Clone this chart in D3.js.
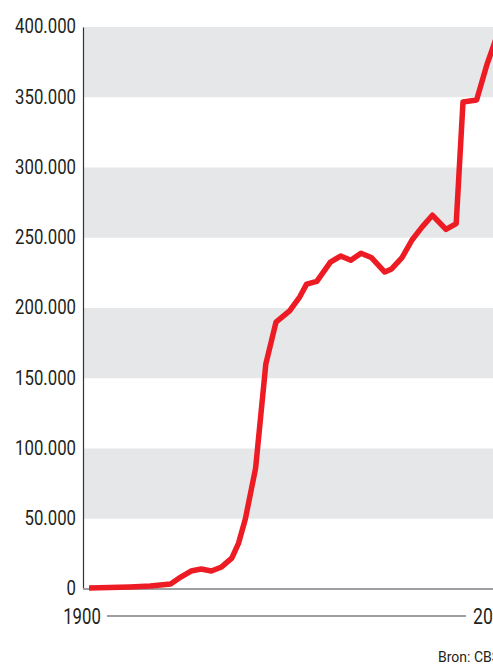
<!DOCTYPE html>
<html>
<head>
<meta charset="utf-8">
<script src="https://cdn.jsdelivr.net/npm/d3@7"></script>
<style>
  body { margin: 0; background: #fff; }
  svg { display: block; }
  text { font-family: Roboto, "Liberation Sans", sans-serif; fill: #231f20; }
</style>
</head>
<body>
<div id="chart"></div>
<script>
// Data (Bron: CBS)
const years = [1900, 1906, 1912, 1918, 1924, 1927, 1930, 1933, 1936, 1939, 1942, 1944, 1946, 1949,
               1952, 1955, 1959, 1962, 1964, 1967, 1971, 1974, 1977, 1980, 1983, 1987, 1989, 1992,
               1995, 1998, 2001, 2005, 2008, 2010, 2014, 2017, 2020];
const values = [700, 1000, 1400, 2100, 3600, 8500, 12800, 14200, 12800, 15700, 22000, 32700, 50000, 86000,
                160000, 190000, 198000, 208000, 217000, 219000, 232700, 237000, 234000, 239000, 236000, 225600, 227800, 235600,
                248400, 257700, 266000, 256000, 260000, 346600, 348000, 373000, 393600];
const yTicks = [0, 50000, 100000, 150000, 200000, 250000, 300000, 350000, 400000];
const yearLabels = ["1900", "2020"];
const source = "Bron: CBS";

const data = years.map((y, i) => ({ year: y, value: values[i] }));

const W = 493, H = 666;
const margin = { top: 27, right: 0, bottom: 77, left: 83 };

const svg = d3.select("#chart").append("svg")
    .attr("width", W)
    .attr("height", H);

const x = d3.scaleLinear()
    .domain([1900, 2020])
    .range([89, 497]);

const y = d3.scaleLinear()
    .domain([0, 400000])
    .range([H - margin.bottom, margin.top]);

const fmt = d => d3.format(",")(d).replace(/,/g, ".");

// alternating grey bands
svg.append("g").selectAll("rect")
    .data(yTicks.filter(t => t % 100000 === 50000))
    .enter().append("rect")
    .attr("x", margin.left)
    .attr("width", W - margin.left)
    .attr("y", d => y(d + 50000))
    .attr("height", d => y(d) - y(d + 50000))
    .attr("fill", "#e6e7e8");

// y axis labels (condensed look via horizontal scale)
const yAxis = svg.append("g")
    .attr("transform", "translate(" + margin.left + ",0)")
    .call(d3.axisLeft(y).tickValues(yTicks).tickFormat(fmt).tickSize(0));
yAxis.select(".domain").attr("stroke", "#333").attr("stroke-width", 1.2);
yAxis.selectAll("text")
    .attr("x", 0)
    .attr("transform", "translate(-7,0) scale(0.86,1)")
    .attr("dy", "0.3em")
    .attr("fill", "#231f20")
    .style("font-size", "19.5px")
    .style("font-family", "Roboto, sans-serif");

// baseline
svg.append("line")
    .attr("x1", margin.left).attr("x2", W)
    .attr("y1", y(0)).attr("y2", y(0))
    .attr("stroke", "#9d9fa2")
    .attr("stroke-width", 2);

// the line
svg.append("path")
    .datum(data)
    .attr("fill", "none")
    .attr("stroke", "#ed1c24")
    .attr("stroke-width", 5.5)
    .attr("stroke-linejoin", "round")
    .attr("d", d3.line().x(d => x(d.year)).y(d => y(d.value)));

// year ruler
const rulerY = 616;
svg.append("text")
    .attr("transform", "translate(82," + rulerY + ") scale(0.76,1)")
    .attr("dy", "0.36em")
    .attr("text-anchor", "middle")
    .style("font-size", "22px")
    .text(yearLabels[0]);
svg.append("line")
    .attr("x1", 107).attr("x2", 466)
    .attr("y1", rulerY).attr("y2", rulerY)
    .attr("stroke", "#9d9fa2")
    .attr("stroke-width", 2);
svg.append("text")
    .attr("transform", "translate(473," + rulerY + ") scale(0.8,1)")
    .attr("dy", "0.36em")
    .style("font-size", "22px")
    .text(yearLabels[1]);

// source
svg.append("text")
    .attr("transform", "translate(438,662)")
    .style("font-size", "14px")
    .attr("fill", "#333")
    .text(source);
</script>
</body>
</html>
